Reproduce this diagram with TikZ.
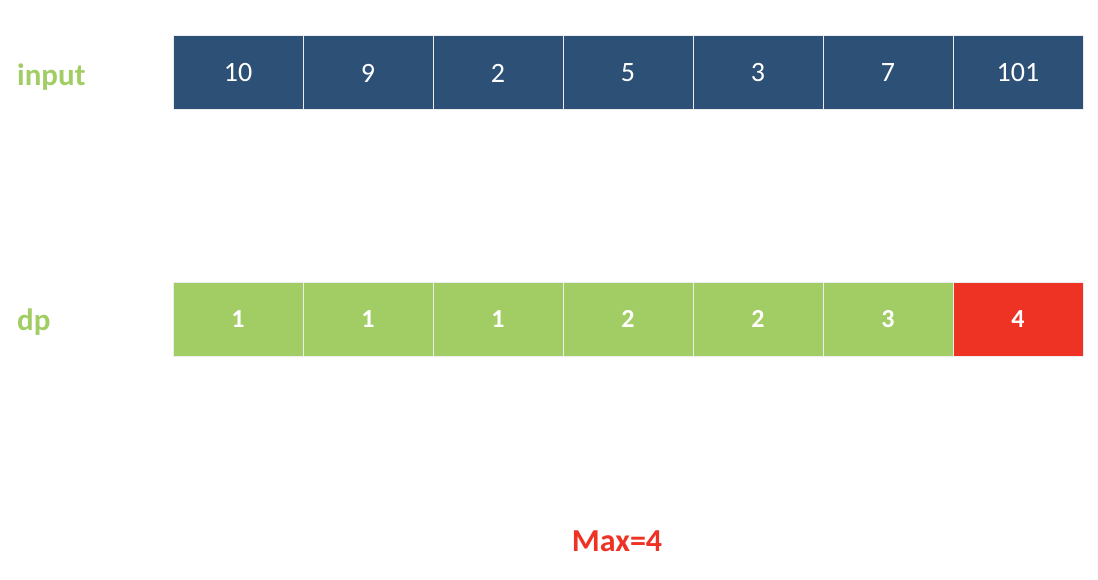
\documentclass[tikz,border=0pt]{standalone}
\usepackage{fontspec}
\setmainfont{Carlito}
\definecolor{navy}{HTML}{2D5077}
\definecolor{lgreen}{HTML}{A2CD65}
\definecolor{bred}{HTML}{EE3224}
\begin{document}
\begin{tikzpicture}[x=1pt,y=-1pt,
  cellbox/.style={draw=white!85!gray,line width=1pt,minimum width=130pt,minimum height=74pt,inner sep=0pt,outer sep=0pt,anchor=north west,text=white},
  inbox/.style={cellbox,fill=navy,font=\fontsize{28}{32}\selectfont},
  dpbox/.style={cellbox,fill=lgreen,font=\bfseries\fontsize{26}{30}\selectfont},
  maxbox/.style={dpbox,fill=bred},
  rowlabel/.style={text=lgreen,font=\bfseries\fontsize{31}{34}\selectfont,anchor=west,inner sep=0pt}]
\useasboundingbox (0,0) rectangle (1098,580);
\node[rowlabel] (lin) at (17,77) {input};
\node[rowlabel] (ldp) at (17,322) {dp};
\foreach \v [count=\i from 0] in {10,9,2,5,3,7,101}
  \node[inbox] (in\i) at (173+130*\i,36) {\v};
\foreach \v [count=\i from 0] in {1,1,1,2,2,3}
  \node[dpbox] (dp\i) at (173+130*\i,282) {\v};
\node[maxbox] (dp6) at (953,282) {4};
\node[text=bred,font=\bfseries\fontsize{32}{36}\selectfont] (mx) at (617,541) {Max=4};
\end{tikzpicture}
\end{document}
